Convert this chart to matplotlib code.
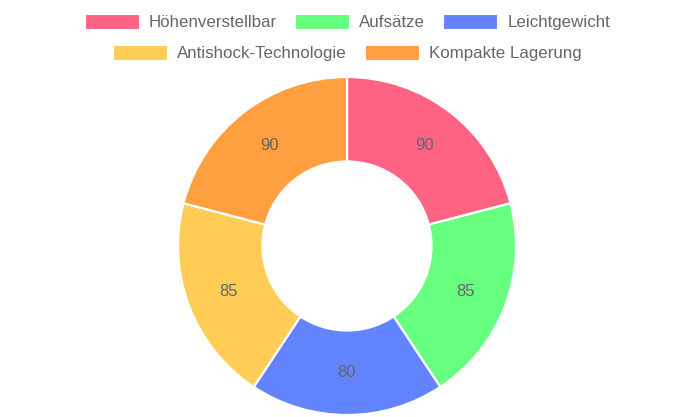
import matplotlib
matplotlib.use("Agg")
import matplotlib.pyplot as plt
from matplotlib.patches import Patch

plt.rcParams['font.family'] = ['Liberation Sans', 'DejaVu Sans']

categories = ["Höhenverstellbar", "Aufsätze", "Leichtgewicht",
              "Antishock-Technologie", "Kompakte Lagerung"]
values = [90, 85, 80, 85, 90]
colors = ["#FF6384", "#66FF80", "#6384FF", "#FFCD56", "#FF9F40"]

W, H = 695, 417
fig = plt.figure(figsize=(W / 100, H / 100), dpi=100)

cx, cy, r = 347, 246, 169
ax = fig.add_axes([(cx - r) / W, (H - cy - r) / H, 2 * r / W, 2 * r / H])
wedges, texts = ax.pie(values, colors=colors, startangle=90, counterclock=False,
                       radius=1.0, labels=[str(v) for v in values],
                       labeldistance=0.75,
                       wedgeprops=dict(width=0.5, edgecolor="white", linewidth=1.6),
                       textprops=dict(color="#666666", fontsize=12,
                                      ha="center", va="center"))
ax.set_xlim(-1, 1)
ax.set_ylim(-1, 1)
ax.set_aspect("equal")
ax.axis("off")

handles = [Patch(facecolor=c, edgecolor="white", linewidth=0.8) for c in colors]
common = dict(frameon=False, fontsize=12.2, handlelength=3.2, handleheight=1.0,
              handletextpad=0.6, columnspacing=1.05, labelcolor="#666666",
              borderpad=0, borderaxespad=0)
leg1 = fig.legend(handles[:3], categories[:3], ncol=3, loc="center",
                  bbox_to_anchor=(0.5, 1 - 22 / H), **common)
leg2 = fig.legend(handles[3:], categories[3:], ncol=2, loc="center",
                  bbox_to_anchor=(0.5, 1 - 53 / H), **common)

fig.savefig("out.png", dpi=100)
